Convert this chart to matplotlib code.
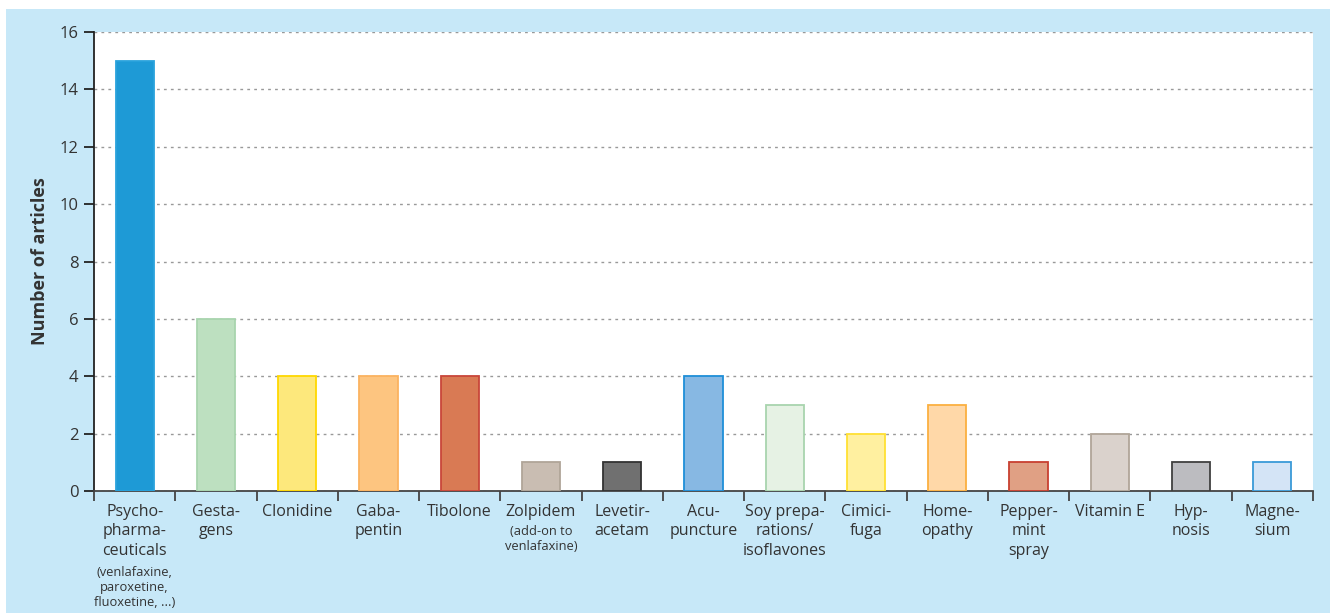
import matplotlib
matplotlib.use('Agg')
import matplotlib.pyplot as plt
from matplotlib.patches import Rectangle
import numpy as np

plt.rcParams['font.family'] = ['Open Sans', 'DejaVu Sans']

labels = ['Psycho-\npharma-\nceuticals', 'Gesta-\ngens', 'Clonidine', 'Gaba-\npentin',
          'Tibolone', 'Zolpidem', 'Levetir-\nacetam', 'Acu-\npuncture',
          'Soy prepa-\nrations/\nisoflavones', 'Cimici-\nfuga', 'Home-\nopathy',
          'Pepper-\nmint\nspray', 'Vitamin E', 'Hyp-\nnosis', 'Magne-\nsium']
notes = ['(venlafaxine,\nparoxetine,\nfluoxetine, ...)', '', '', '', '',
         '(add-on to\nvenlafaxine)', '', '', '', '', '', '', '', '', '']
articles = [15, 6, 4, 4, 4, 1, 1, 4, 3, 2, 3, 1, 2, 1, 1]
fills = ['#1e9ad6', '#bde0c0', '#fde87c', '#fdc580', '#d97a54', '#c9bdb2', '#707070',
         '#87b8e3', '#e6f2e4', '#fff0a0', '#ffd8a8', '#e0a084', '#dad2cc', '#bcbcc0', '#d4e4f6']
edges = ['#2aa2dc', '#a8d4ae', '#ffd800', '#fbb360', '#c9463a', '#b0a598', '#333333',
         '#1e8fd8', '#a8d4ae', '#ffe033', '#fbb040', '#c84030', '#b0a598', '#404040', '#3a9ad8']

fig = plt.figure(figsize=(13.3, 6.13), dpi=100, facecolor='white')
fig.patches.append(Rectangle((6 / 1330, 0), 1, (613 - 9) / 613, transform=fig.transFigure,
                             facecolor='#c7e8f8', edgecolor='none', zorder=-10))
ax = fig.add_axes([94 / 1330, (613 - 491) / 613, (1313 - 94) / 1330, (491 - 32) / 613])
ax.set_facecolor('white')

x = np.arange(len(articles))
ax.bar(x, articles, width=0.47, color=fills, edgecolor=edges, linewidth=1.3, zorder=3)

ax.set_xlim(-0.5, len(articles) - 0.5)
ax.set_ylim(0, 16)
ax.set_yticks(range(0, 17, 2))
ax.yaxis.grid(True, color='#999999', linestyle=(0, (2, 3)), linewidth=1)
ax.set_axisbelow(True)

ax.set_xticks(np.arange(-0.5, len(articles), 1))
ax.set_xticklabels([])
ax.tick_params(axis='x', length=7, width=1.3, color='#444444')
ax.tick_params(axis='y', length=7, width=1.3, color='#222222', labelsize=12, labelcolor='#333333', pad=4)

for s in ['top', 'right']:
    ax.spines[s].set_visible(False)
ax.spines['left'].set_color('#222222')
ax.spines['left'].set_linewidth(1.3)
ax.spines['bottom'].set_color('#444444')
ax.spines['bottom'].set_linewidth(1.3)

ax.set_ylabel('Number of articles', fontsize=13, fontweight='bold', color='#333333', labelpad=8)

tr = ax.get_xaxis_transform()
for i, (lab, note) in enumerate(zip(labels, notes)):
    ax.annotate(lab, (i, 0), xycoords=tr, xytext=(0, -9), textcoords='offset points',
                ha='center', va='top', fontsize=11.5, color='#333333', linespacing=1.32)
    if note:
        n = lab.count('\n') + 1
        ax.annotate(note, (i, 0), xycoords=tr, xytext=(0, -9.5 - n * 14.8), textcoords='offset points',
                    ha='center', va='top', fontsize=9.3, color='#333333', linespacing=1.22)

fig.savefig('out.png', dpi=100)
